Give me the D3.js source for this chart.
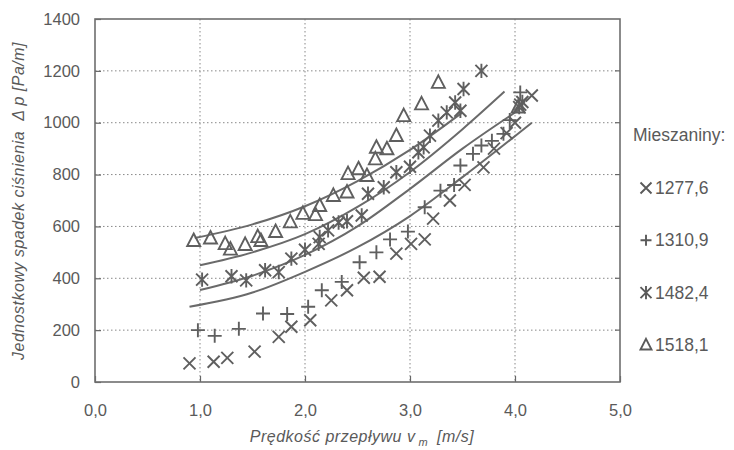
<!DOCTYPE html>
<html>
<head>
<meta charset="utf-8">
<script src="https://cdn.jsdelivr.net/npm/d3@7"></script>
<style>
  body { margin: 0; background: #fff; }
  text { font-family: "Liberation Sans", Arial, sans-serif; fill: #5a5a5a; }
</style>
</head>
<body>
<svg class="main" width="734" height="450"></svg>
<script>
var svg = d3.select(".main");

var xTicks = [0, 1, 2, 3, 4, 5],
    yTicks = [0, 200, 400, 600, 800, 1000, 1200, 1400];

var v1277 = [0.90,1.13,1.26,1.52,1.75,1.87,2.05,2.25,2.40,2.56,2.71,2.87,3.01,3.14,3.22,3.38,3.52,3.70,3.80,3.92,4.00,4.05,4.16],
    p1277 = [72,78,93,117,174,213,238,315,354,402,406,495,533,550,630,700,760,828,900,960,1000,1070,1105];

var v1310 = [0.98,1.14,1.37,1.60,1.83,2.03,2.16,2.35,2.52,2.68,2.81,2.98,3.14,3.29,3.42,3.48,3.60,3.68,3.78,3.89,3.95,4.05],
    p1310 = [200,178,205,264,262,290,354,386,462,500,550,580,674,738,760,835,880,912,930,957,1010,1117];

var v1482 = [1.02,1.30,1.44,1.62,1.75,1.87,2.00,2.13,2.14,2.22,2.32,2.40,2.54,2.60,2.75,2.87,3.00,3.08,3.13,3.19,3.27,3.35,3.43,3.48,3.51,3.68,4.04,4.07],
    p1482 = [395,408,392,431,424,476,510,533,559,585,615,620,642,726,751,809,830,886,905,950,1008,1040,1078,1046,1130,1200,1060,1080];

var v1518 = [0.94,1.10,1.24,1.29,1.43,1.55,1.58,1.72,1.86,1.98,2.10,2.14,2.27,2.40,2.41,2.51,2.59,2.67,2.68,2.78,2.87,2.94,3.11,3.27,4.03],
    p1518 = [545,555,533,512,530,560,545,580,617,650,645,680,719,732,803,822,796,860,905,899,950,1027,1072,1155,1060];

// fitted curves
var cv1518 = [0.95,1.5,2.0,2.5,3.0,3.5],
    cp1518 = [555,608,678,775,895,1040];
var cv1482 = [1.0,1.5,2.0,2.5,3.0,3.5,3.9],
    cp1482 = [450,500,570,675,810,975,1120];
var cv1310 = [1.0,1.5,2.0,2.5,3.0,3.5,4.04],
    cp1310 = [355,410,490,600,745,900,1050];
var cv1277 = [0.9,1.5,2.0,2.5,3.0,3.5,4.16],
    cp1277 = [290,345,425,520,640,790,1000];

var legendNames = ["1277,6", "1310,9", "1482,4", "1518,1"],
    legendKinds = ["x", "plus", "star", "tri"];

var mLeft = 95, mRight = 620, mTop = 19, mBottom = 382;
var x = d3.scaleLinear().domain([0, 5]).range([mLeft, mRight]),
    y = d3.scaleLinear().domain([0, 1400]).range([mBottom, mTop]);

var grey = "#666";

// grid
svg.append("g").selectAll("line").data(yTicks.slice(1, -1)).enter().append("line")
    .attr("x1", mLeft).attr("x2", mRight)
    .attr("y1", function(d) { return y(d); }).attr("y2", function(d) { return y(d); })
    .attr("stroke", "#888").attr("stroke-width", 1).attr("stroke-dasharray", "1.5,2.5");
svg.append("g").selectAll("line").data(xTicks.slice(1, -1)).enter().append("line")
    .attr("y1", mTop).attr("y2", mBottom)
    .attr("x1", function(d) { return x(d); }).attr("x2", function(d) { return x(d); })
    .attr("stroke", "#888").attr("stroke-width", 1).attr("stroke-dasharray", "1.5,2.5");

// axes, ticks inside
var xAxis = d3.axisBottom(x).tickValues(xTicks).tickSize(-6).tickPadding(22)
    .tickFormat(function(d) { return d3.format(".1f")(d).replace(".", ","); });
var gx = svg.append("g").attr("transform", "translate(0," + mBottom + ")").call(xAxis);
var yAxis = d3.axisLeft(y).tickValues(yTicks).tickSize(-6).tickPadding(15)
    .tickFormat(d3.format("d"));
var gy = svg.append("g").attr("transform", "translate(" + mLeft + ",0)").call(yAxis);
[gx, gy].forEach(function(g) {
    g.select(".domain").remove();
    g.selectAll(".tick line").attr("stroke", grey).attr("stroke-width", 1.2);
    g.selectAll(".tick text").style("font-size", "16.5px").attr("fill", "#5a5a5a");
});
// right-side ticks
svg.append("g").selectAll("line").data(yTicks.slice(1, -1)).enter().append("line")
    .attr("x1", mRight - 5).attr("x2", mRight)
    .attr("y1", function(d) { return y(d); }).attr("y2", function(d) { return y(d); })
    .attr("stroke", grey).attr("stroke-width", 1.2);

// frame
svg.append("rect").attr("x", mLeft).attr("y", mTop)
    .attr("width", mRight - mLeft).attr("height", mBottom - mTop)
    .attr("fill", "none").attr("stroke", "#6e6e6e").attr("stroke-width", 1.6);

// curves
var line = d3.line()
    .x(function(d) { return x(d[0]); })
    .y(function(d) { return y(d[1]); })
    .curve(d3.curveMonotoneX);
[[cv1518, cp1518], [cv1482, cp1482], [cv1310, cp1310], [cv1277, cp1277]].forEach(function(c) {
    svg.append("path").datum(d3.zip(c[0], c[1]))
        .attr("d", line).attr("fill", "none")
        .attr("stroke", "#6a6a6a").attr("stroke-width", 2);
});

// markers
function markerPath(kind, r) {
    if (kind === "x") return "M" + -r + "," + -r + "L" + r + "," + r + "M" + -r + "," + r + "L" + r + "," + -r;
    if (kind === "plus") return "M" + -r + ",0L" + r + ",0M0," + -r + "L0," + r;
    if (kind === "star") return "M" + -r + "," + -r + "L" + r + "," + r + "M" + -r + "," + r + "L" + r + "," + -r +
        "M0," + (-r * 1.2) + "L0," + (r * 1.2);
    var h = r * 1.1;
    return "M0," + (-h) + "L" + r + "," + (h * 0.75) + "L" + -r + "," + (h * 0.75) + "Z";
}
function drawSeries(vs, ps, kind, r) {
    svg.append("g").selectAll("path").data(d3.zip(vs, ps)).enter().append("path")
        .attr("transform", function(d) { return "translate(" + x(d[0]) + "," + y(d[1]) + ")"; })
        .attr("d", markerPath(kind, r))
        .attr("fill", "none").attr("stroke", "#5f5f5f").attr("stroke-width", 1.9);
}
drawSeries(v1518, p1518, "tri", 6.5);
drawSeries(v1482, p1482, "star", 6);
drawSeries(v1310, p1310, "plus", 7);
drawSeries(v1277, p1277, "x", 6);

// legend
svg.append("text").attr("x", 633).attr("y", 141).style("font-size", "17.5px").text("Mieszaniny:");
var lg = svg.append("g").selectAll("g").data(legendNames).enter().append("g")
    .attr("transform", function(d, i) { return "translate(646," + (188 + i * 52.3) + ")"; });
lg.append("path")
    .attr("d", function(d, i) { return markerPath(legendKinds[i], 5.5); })
    .attr("fill", "none").attr("stroke", "#5a5a5a").attr("stroke-width", 1.9);
lg.append("text").attr("x", 9).attr("y", 6).style("font-size", "17.5px").text(function(d) { return d; });

// axis titles
var yt = svg.append("text")
    .attr("transform", "translate(24,201) rotate(-90)")
    .attr("text-anchor", "middle")
    .style("font-size", "16px").style("font-style", "italic")
    .style("letter-spacing", "0.5px");
yt.append("tspan").text("Jednostkowy spadek ciśnienia");
yt.append("tspan").attr("dx", 10).text("Δ");
yt.append("tspan").attr("dx", 4).text("p [Pa/m]");

var xt = svg.append("text").attr("x", 362).attr("y", 442)
    .attr("text-anchor", "middle")
    .style("font-size", "16px").style("font-style", "italic")
    .style("letter-spacing", "0.5px");
xt.append("tspan").text("Prędkość przepływu v");
xt.append("tspan").attr("dx", 3).attr("dy", 4).style("font-size", "11px").text("m");
xt.append("tspan").attr("dx", 9).attr("dy", -4).text("[m/s]");
</script>
</body>
</html>
